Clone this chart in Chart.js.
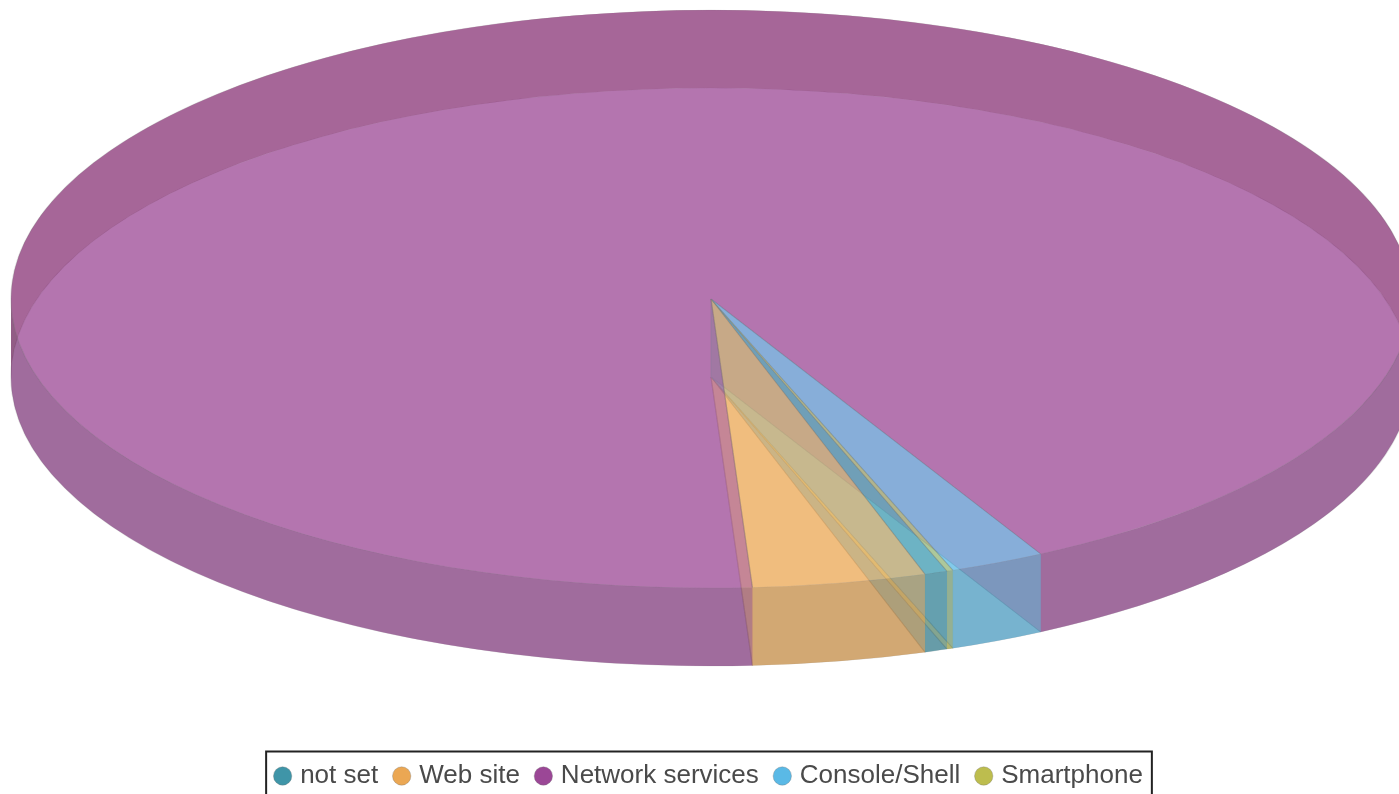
<!DOCTYPE html>
<html>
<head>
<meta charset="utf-8">
<title>Pie</title>
<script src="https://cdn.jsdelivr.net/npm/chart.js@4"></script>
<style>
    html, body { margin: 0; padding: 0; background: #fff; overflow: hidden; }
    #wrap { width: 1399px; height: 794px; overflow: hidden; }
    canvas { display: block; }
</style>
</head>
<body>
<div id="wrap"><canvas id="pie" width="1399" height="799"></canvas></div>
<script>
const categories = ["not set", "Web site", "Network services", "Console/Shell", "Smartphone"];
const shares = [0.53, 4.0, 93.14, 2.19, 0.14];
const sliceColors = ["#3f95a8", "#eba753", "#9b4796", "#5ab9e6", "#bdbd4e"];

// how strongly each slice's inner cut walls show through
const cutAlphas = [0.03, 0.2, 0.03, 0.2, 0.03];

// tilted disc: where the pie ends up on screen
const CX = 711;
const CY = 299;
const RX = 700;
const RY = 289;
const DEPTH = 78;
const FIRST_SLICE_ANGLE = 160.3;
const FACE_ALPHA = 0.5;

const hexRgb = (hex) => [1, 3, 5].map((i) => parseInt(hex.substr(i, 2), 16));
const shade = (hex, f) => {
    const c = hexRgb(hex);
    return `rgb(${c[0] * f[0]},${c[1] * f[1]},${c[2] * f[2]})`;
};
const FRONT_SHADE = [0.75, 0.75, 0.75];
const BACK_SHADE = [0.64, 0.15, 0.38];

function drawFace(ctx, arcs, lift) {
    ctx.save();
    ctx.globalAlpha = FACE_ALPHA;
    arcs.forEach((arc) => {
        ctx.save();
        ctx.translate(CX, CY + lift);
        ctx.scale(RX / arc.outerRadius, RY / arc.outerRadius);
        ctx.translate(-arc.x, -arc.y);
        arc.draw(ctx);
        ctx.restore();
    });
    ctx.restore();
}

function fillRim(ctx, from, to, color) {
    ctx.fillStyle = color;
    ctx.beginPath();
    ctx.ellipse(CX, CY, RX, RY, 0, from, to);
    ctx.ellipse(CX, CY + DEPTH, RX, RY, 0, to, from, true);
    ctx.closePath();
    ctx.fill();
}

// outer wall of each slice, cut where it passes from the back half to the front half
function drawRims(ctx, arcs, wantBack) {
    ctx.globalAlpha = FACE_ALPHA;
    arcs.forEach((arc, i) => {
        for (let k = Math.floor(arc.startAngle / Math.PI); k * Math.PI < arc.endAngle; k++) {
            const isBack = Math.abs(k % 2) === 1;
            if (isBack !== wantBack) {
                continue;
            }
            const from = Math.max(arc.startAngle, k * Math.PI);
            const to = Math.min(arc.endAngle, (k + 1) * Math.PI);
            fillRim(ctx, from, to, shade(sliceColors[i], isBack ? BACK_SHADE : FRONT_SHADE));
        }
    });
}

function drawCuts(ctx, arcs) {
    ctx.lineWidth = 1;
    arcs.forEach((arc, i) => {
        ctx.fillStyle = sliceColors[i];
        ctx.strokeStyle = sliceColors[i];
        ctx.globalAlpha = cutAlphas[i];
        [arc.startAngle, arc.endAngle].forEach((a) => {
            const ex = CX + RX * Math.cos(a);
            const ey = CY + RY * Math.sin(a);
            ctx.beginPath();
            ctx.moveTo(CX, CY);
            ctx.lineTo(ex, ey);
            ctx.lineTo(ex, ey + DEPTH);
            ctx.lineTo(CX, CY + DEPTH);
            ctx.closePath();
            ctx.fill();
            ctx.stroke();
        });
    });
}

const discPlugin = {
    id: "disc",
    beforeDatasetDraw(chart, args) {
        const ctx = chart.ctx;
        const arcs = args.meta.data;
        drawFace(ctx, arcs, DEPTH);
        ctx.save();
        drawRims(ctx, arcs, true);
        drawCuts(ctx, arcs);
        drawRims(ctx, arcs, false);
        ctx.restore();
        drawFace(ctx, arcs, 0);
        return false;
    },
};

const legendFrame = {
    id: "legendFrame",
    afterDraw(chart) {
        const boxes = chart.legend.legendHitBoxes;
        const last = boxes[boxes.length - 1];
        const ctx = chart.ctx;
        const left = boxes[0].left - 12;
        const right = last.left + last.width + 9;
        const top = boxes[0].top - 11.5;
        ctx.save();
        ctx.strokeStyle = "#222";
        ctx.lineWidth = 2;
        ctx.strokeRect(left, top, right - left, chart.height - top + 10);
        ctx.restore();
    },
};

new Chart(document.getElementById("pie").getContext("2d"), {
    type: "pie",

    data: {
        labels: categories,

        datasets: [
            {
                data: shares,

                backgroundColor: sliceColors,

                borderColor: "rgba(110,110,110,0.45)",

                borderWidth: 0.7,
            },
        ],
    },

    options: {
        responsive: false,

        animation: false,

        rotation: FIRST_SLICE_ANGLE,

        events: [],

        layout: {
            padding: {
                left: 22,
            },
        },

        plugins: {
            tooltip: {
                enabled: false,
            },

            legend: {
                position: "bottom",

                labels: {
                    usePointStyle: true,

                    boxWidth: 9,

                    boxHeight: 13,

                    padding: 19,

                    color: "#4a4a4a",

                    font: {
                        family: "'Liberation Sans', Arial, sans-serif",

                        size: 26,
                    },
                },
            },
        },
    },

    plugins: [discPlugin, legendFrame],
});
</script>
</body>
</html>
